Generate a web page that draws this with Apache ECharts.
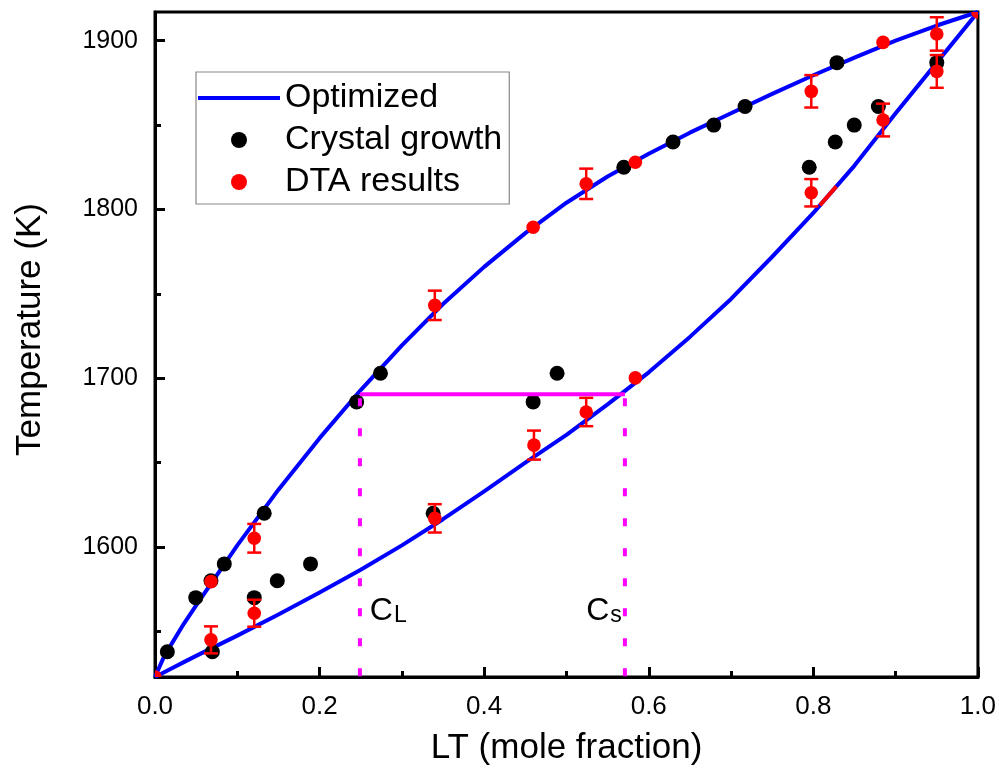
<!DOCTYPE html>
<html>
<head>
<meta charset="utf-8">
<script src="https://cdn.jsdelivr.net/npm/echarts@6/dist/echarts.min.js"></script>
<style>html,body{margin:0;padding:0;background:#fff}#c{width:999px;height:775px}</style>
</head>
<body>
<div id="c"></div>
<script>
// ---- data ----
const curveX    = [0, 0.01, 0.02, 0.035, 0.05, 0.1, 0.15, 0.2, 0.25, 0.3, 0.35, 0.4, 0.45, 0.5, 0.55, 0.6, 0.65, 0.7, 0.75, 0.8, 0.85, 0.9, 0.95, 1.0];
const liquidusT = [1523, 1534, 1542.5, 1554.5, 1565.5, 1601, 1634, 1664.5, 1693, 1719.5, 1744, 1766, 1786, 1804, 1819.5, 1833, 1845.5, 1857, 1868.5, 1879.5, 1890, 1900, 1909, 1917];
const solidusT  = [1523, 1525.5, 1528, 1531.8, 1535.5, 1547.5, 1560, 1573, 1586.5, 1601, 1616.5, 1633, 1650, 1666.5, 1684.5, 1703.5, 1724.5, 1747, 1772, 1798, 1826, 1857, 1887, 1917];

const crystalX = [0.015, 0.0495, 0.0842, 0.1327, 0.0697, 0.1206, 0.1486, 0.189, 0.068, 0.338, 0.274, 0.245, 0.4886, 0.4595, 0.5697, 0.6295, 0.679, 0.717, 0.8287, 0.95, 0.879, 0.8497, 0.8266, 0.795];
const crystalT = [1538, 1570, 1590, 1620, 1538, 1570, 1580, 1590, 1580, 1620, 1703, 1686, 1703, 1686, 1825, 1840, 1850, 1861, 1887, 1887, 1861, 1850, 1840, 1825];

const dtaX   = [0, 1.0, 0.068, 0.068, 0.1206, 0.1206, 0.34, 0.34, 0.4605, 0.524, 0.5837, 0.4595, 0.524, 0.5837, 0.8847, 0.7975, 0.95, 0.95, 0.8847, 0.7975];
const dtaT   = [1523, 1917, 1579.5, 1545, 1560.8, 1605.2, 1743.2, 1617, 1660.4, 1680, 1700.2, 1789.5, 1815.2, 1828, 1899, 1870, 1904, 1881.8, 1853, 1809.9];
const dtaErr = [0, 0, 0, 8, 8, 8.5, 8.7, 8.4, 8.6, 8.4, 0, 0, 9, 0, 0, 9.6, 9.9, 9.7, 9.7, 8.1];

const tieT = 1690.5;
const cL = 0.249;
const cS = 0.571;
const redSegX = [0.808, 0.828];
const redSegT = [1802.5, 1813.7];

const xTicks = [0, 0.2, 0.4, 0.6, 0.8, 1.0];
const yTicks = [1600, 1700, 1800, 1900];
const yMinorTicks = [1550, 1650, 1750, 1850];
const yMin = 1523, yMax = 1917;

// ---- build ----
const FONT = 'Liberation Sans, Arial, sans-serif';
const zip = (a, b) => a.map((v, i) => [v, b[i]]);
const dtaData = dtaX.map((v, i) => [v, dtaT[i], dtaErr[i]]);

const richLbl = {
  c: {fontSize: 32, lineHeight: 32, verticalAlign: 'top', color: '#000', fontFamily: FONT},
  s: {fontSize: 23, lineHeight: 23, padding: [20, 0, 0, 1], verticalAlign: 'bottom', color: '#000', fontFamily: FONT}
};

const chart = echarts.init(document.getElementById('c'), null, {renderer: 'canvas'});
chart.setOption({
  animation: false,
  backgroundColor: '#fff',
  textStyle: {fontFamily: FONT},
  grid: {left: 155, right: 21, top: 12, bottom: 98, show: true, borderColor: '#000', borderWidth: 3},
  legend: {
    orient: 'vertical', left: 196, top: 72,
    padding: [9, 7, 5, 2], itemGap: 8,
    itemWidth: 82, itemHeight: 16,
    borderColor: '#888', borderWidth: 1.2, borderRadius: 0,
    textStyle: {fontSize: 34, color: '#000', fontFamily: FONT},
    data: [
      {name: 'Optimized', icon: 'path://M0,0H82V4H0Z'},
      {name: 'Crystal growth', icon: 'circle'},
      {name: 'DTA results', icon: 'circle'}
    ]
  },
  xAxis: [{
    type: 'value', min: 0, max: 1, interval: 0.2,
    name: 'LT (mole fraction)', nameLocation: 'middle', nameGap: 54,
    nameTextStyle: {fontSize: 35, color: '#000', fontFamily: FONT},
    axisLine: {show: true, lineStyle: {color: '#000', width: 3}},
    axisTick: {show: true, inside: true, length: 10, lineStyle: {color: '#000', width: 3}},
    minorTick: {show: true, splitNumber: 2, length: 6, lineStyle: {color: '#000', width: 3}},
    axisLabel: {fontSize: 26, color: '#000', margin: 17, fontFamily: FONT, formatter: v => v.toFixed(1)},
    splitLine: {show: false}
  }],
  yAxis: [{
    type: 'value', min: yMin, max: yMax, position: 'left',
    name: 'Temperature (K)', nameLocation: 'middle', nameGap: 107,
    nameTextStyle: {fontSize: 35, color: '#000', fontFamily: FONT, padding: [0, 0, 0, 30]},
    axisLine: {show: true, lineStyle: {color: '#000', width: 3}},
    axisTick: {show: true, inside: true, length: 10, customValues: yTicks, lineStyle: {color: '#000', width: 3}},
    axisLabel: {fontSize: 25, color: '#000', margin: 17, fontFamily: FONT, customValues: yTicks, formatter: v => String(v)},
    splitLine: {show: false}
  }, {
    type: 'value', min: yMin, max: yMax, position: 'left',
    axisLine: {show: false},
    axisTick: {show: true, inside: true, length: 6, customValues: yMinorTicks, lineStyle: {color: '#000', width: 3}},
    axisLabel: {show: false},
    splitLine: {show: false}
  }],
  series: [
    {name: 'Optimized', type: 'line', data: zip(curveX, liquidusT), symbol: 'none', showSymbol: false,
     smooth: false,
     lineStyle: {color: '#0000ff', width: 4, join: 'round'}, itemStyle: {color: '#0000ff'}, z: 2},
    {name: 'Optimized', type: 'line', data: zip(curveX, solidusT), symbol: 'none', showSymbol: false,
     smooth: false,
     lineStyle: {color: '#0000ff', width: 4, join: 'round'}, itemStyle: {color: '#0000ff'}, z: 2},
    {name: 'redseg', type: 'line', data: zip(redSegX, redSegT), symbol: 'none',
     lineStyle: {color: '#ff0000', width: 4}, z: 3},
    {name: 'Crystal growth', type: 'scatter', data: zip(crystalX, crystalT), symbol: 'circle', symbolSize: 15,
     itemStyle: {color: '#000000', opacity: 1}, z: 4},
    {name: 'tie', type: 'line', data: [[cL, tieT], [cS, tieT]], symbol: 'none',
     lineStyle: {color: '#ff00ff', width: 4}, z: 5},
    {name: 'cLline', type: 'line', data: [[cL, tieT], [cL, yMin]], symbol: 'none',
     lineStyle: {color: '#ff00ff', width: 4, type: [8, 22], dashOffset: -4}, z: 5},
    {name: 'cSline', type: 'line', data: [[cS, tieT], [cS, yMin]], symbol: 'none',
     lineStyle: {color: '#ff00ff', width: 4, type: [8, 22], dashOffset: -4}, z: 5},
    {name: 'labels', type: 'scatter', symbolSize: 0, z: 6, silent: true,
     itemStyle: {opacity: 1, color: '#000'},
     data: [
       {value: [0.261, 1562], label: {show: true, position: 'right', distance: 0, color: '#000', formatter: '{c|C}{s|L}', rich: richLbl}},
       {value: [0.524, 1562], label: {show: true, position: 'right', distance: 0, color: '#000', formatter: '{c|C}{s|s}', rich: richLbl}}
     ],
     label: {color: '#000', fontFamily: FONT, rich: richLbl}
    },
    {name: 'DTA results', type: 'custom', data: dtaData, clip: true, z: 7,
     itemStyle: {color: '#ff0000'},
     encode: {x: 0, y: 1},
     renderItem: function (params, api) {
       const x = api.value(0), y = api.value(1), e = api.value(2);
       const c = api.coord([x, y]);
       const children = [];
       const st = {stroke: '#ff0000', lineWidth: 2.5};
       if (e > 0) {
         const t = api.coord([x, y + e]), b = api.coord([x, y - e]);
         children.push({type: 'line', shape: {x1: c[0], y1: t[1], x2: c[0], y2: b[1]}, style: st});
         children.push({type: 'line', shape: {x1: c[0] - 7, y1: t[1], x2: c[0] + 7, y2: t[1]}, style: st});
         children.push({type: 'line', shape: {x1: c[0] - 7, y1: b[1], x2: c[0] + 7, y2: b[1]}, style: st});
       }
       children.push({type: 'circle', shape: {cx: c[0], cy: c[1], r: 6.8}, style: {fill: '#ff0000'}});
       return {type: 'group', children: children};
     }
    }
  ]
});
</script>
</body>
</html>
